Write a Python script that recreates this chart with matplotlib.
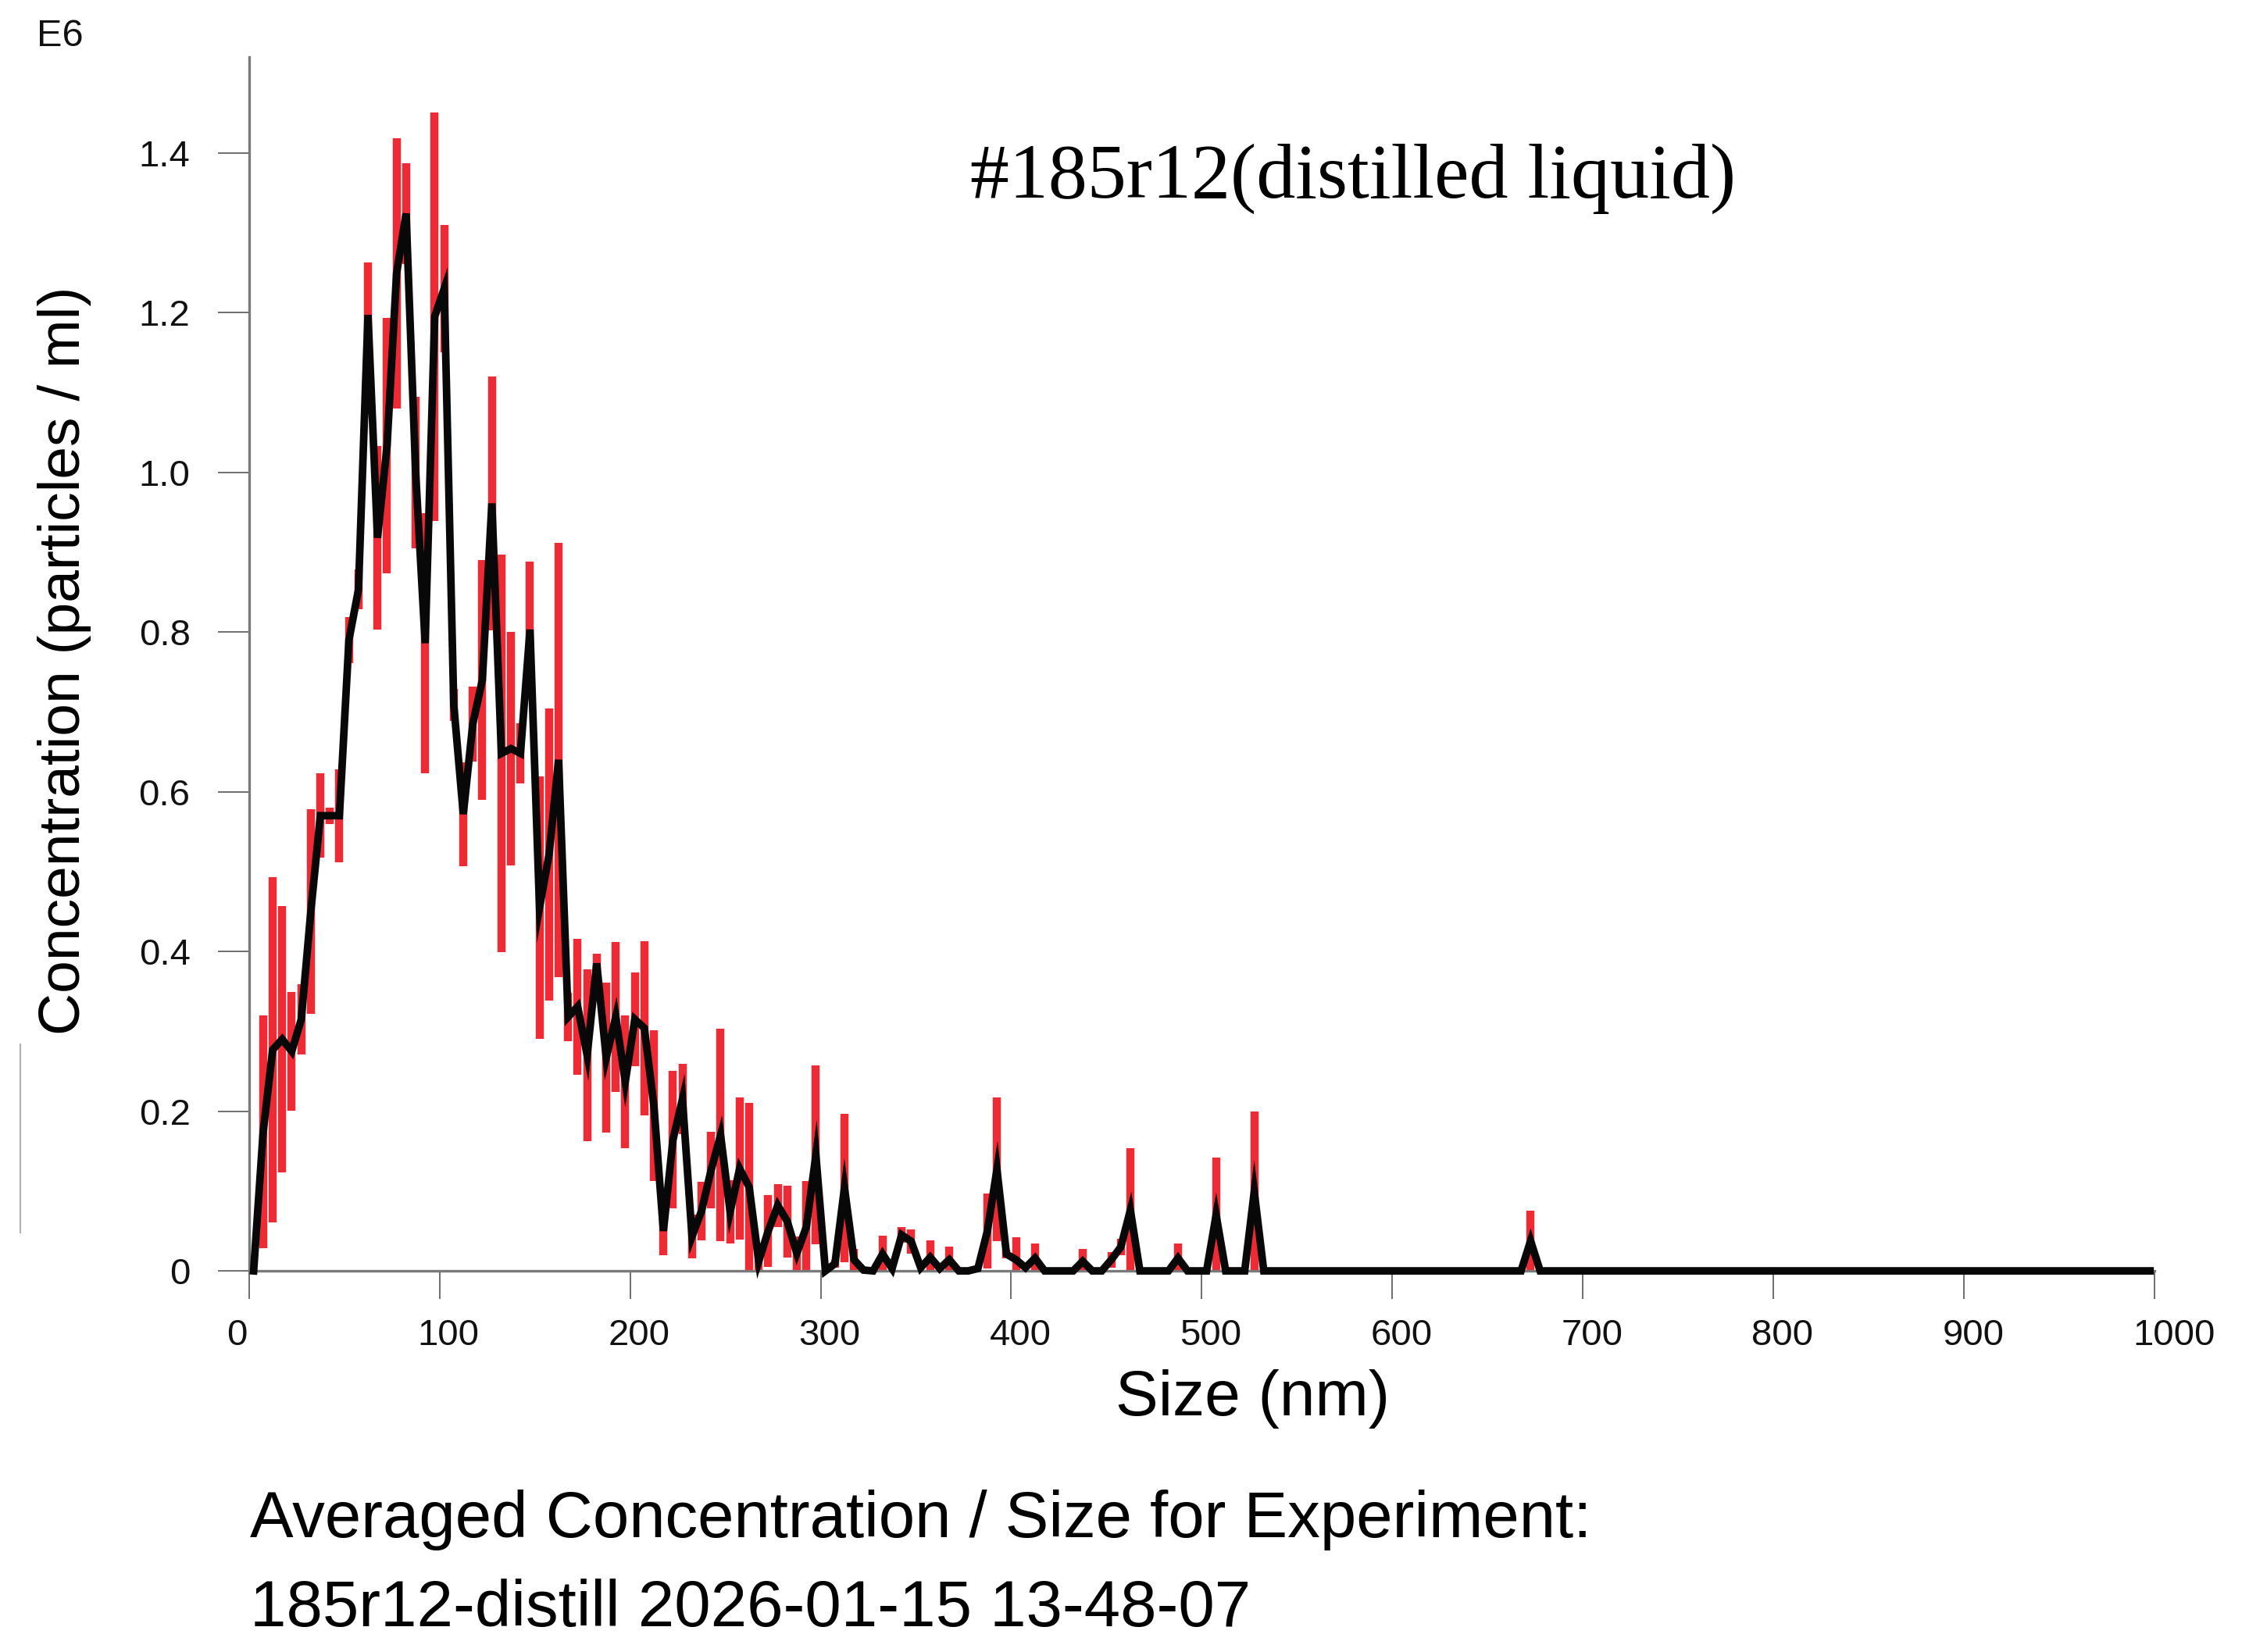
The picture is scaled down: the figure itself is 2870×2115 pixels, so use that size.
import numpy as np
import matplotlib
matplotlib.use("Agg")
import matplotlib.pyplot as plt
from matplotlib.lines import Line2D
from matplotlib.transforms import ScaledTranslation

plt.rcParams['font.family'] = ['Liberation Sans', 'DejaVu Sans']

# bin centres (nm), 5 nm bins
size_nm = np.arange(2.5, 1000, 5)

# mean concentration (E6 particles / ml)
conc = [0.0, 0.174, 0.277, 0.290, 0.275, 0.315, 0.450, 0.570, 0.570, 0.570,
        0.790, 0.853, 1.197, 0.918, 1.033, 1.249, 1.324, 1.000, 0.786, 1.195,
        1.230, 0.709, 0.572, 0.685, 0.740, 0.961, 0.648, 0.654, 0.648, 0.803,
        0.455, 0.521, 0.640, 0.318, 0.331, 0.270, 0.385, 0.267, 0.318, 0.237,
        0.315, 0.304, 0.207, 0.050, 0.164, 0.215, 0.043, 0.075, 0.126, 0.170,
        0.074, 0.128, 0.105, 0.012, 0.050, 0.082, 0.062, 0.022, 0.055, 0.145,
        0.000, 0.009, 0.104, 0.014, 0.001, 0.000, 0.021, 0.003, 0.045, 0.037,
        0.004, 0.017, 0.003, 0.014, 0.000, 0.000, 0.003, 0.050, 0.127, 0.021,
        0.014, 0.004, 0.016, 0.000, 0.000, 0.000, 0.000, 0.012, 0.000, 0.000,
        0.014, 0.030, 0.076, 0.000, 0.000, 0.000, 0.000, 0.016, 0.000, 0.000,
        0.000, 0.070, 0.000, 0.000, 0.000, 0.099] \
    + [0.0] * 28 + [0.0376] + [0.0] * 65

# standard error (same units)
err = [0.0, 0.146, 0.216, 0.167, 0.074, 0.044, 0.128, 0.053, 0.010, 0.058,
       0.029, 0.025, 0.066, 0.115, 0.160, 0.169, 0.063, 0.095, 0.163, 0.256,
       0.080, 0.020, 0.065, 0.047, 0.150, 0.159, 0.249, 0.146, 0.038, 0.085,
       0.164, 0.183, 0.272, 0.030, 0.085, 0.108, 0.012, 0.094, 0.094, 0.083,
       0.059, 0.109, 0.094, 0.030, 0.086, 0.044, 0.027, 0.037, 0.048, 0.133,
       0.040, 0.089, 0.105, 0.012, 0.045, 0.027, 0.045, 0.021, 0.058, 0.112,
       0.000, 0.005, 0.093, 0.013, 0.000, 0.000, 0.023, 0.000, 0.010, 0.015,
       0.000, 0.021, 0.000, 0.016, 0.000, 0.000, 0.000, 0.047, 0.090, 0.005,
       0.028, 0.000, 0.018, 0.000, 0.000, 0.000, 0.000, 0.015, 0.000, 0.000,
       0.010, 0.010, 0.078, 0.000, 0.000, 0.000, 0.000, 0.018, 0.000, 0.000,
       0.000, 0.072, 0.000, 0.000, 0.000, 0.101] \
    + [0.0] * 28 + [0.038] + [0.0] * 65

x_ticks = [0, 100, 200, 300, 400, 500, 600, 700, 800, 900, 1000]
y_ticks = [0, 0.2, 0.4, 0.6, 0.8, 1.0, 1.2, 1.4]
y_ticklabels = ['0', '0.2', '0.4', '0.6', '0.8', '1.0', '1.2', '1.4']

conc = np.array(conc)
err = np.array(err)
lo = np.clip(conc - err, 0, None)
hi = conc + err

fig = plt.figure(figsize=(28.7, 21.15), dpi=100)
ax = fig.add_axes([0.111, 0.2307, 0.8501, 0.7348])

# red error bars, then the mean line on top
ax.vlines(size_nm, lo, hi, colors='#ee2b34', linewidth=7.5, zorder=2)
ax.plot(size_nm, conc, color='#080808', linewidth=7, solid_joinstyle='miter',
        clip_on=False, zorder=3)

ax.set_xlim(0, 1000)
ax.set_ylim(0, 1.52)
ax.set_xticks(x_ticks)
ax.set_xticklabels([str(v) for v in x_ticks])
ax.set_yticks(y_ticks)
ax.set_yticklabels(y_ticklabels)

for side in ['top', 'right']:
    ax.spines[side].set_visible(False)
for side in ['left', 'bottom']:
    ax.spines[side].set_color('#7a7a7a')
    ax.spines[side].set_linewidth(2.4)

ax.tick_params(axis='y', length=29, width=1.2, color='#555555', pad=25,
               labelsize=34, labelcolor='#111111')
ax.tick_params(axis='x', length=26, width=1.2, color='#555555', pad=18,
               labelsize=34, labelcolor='#111111')

# x tick labels in the original start a little left of their tick
shift = ScaledTranslation(-0.28, 0, fig.dpi_scale_trans)
for lab in ax.get_xticklabels():
    lab.set_horizontalalignment('left')
    lab.set_transform(lab.get_transform() + shift)

fig.text(0.0268, 0.978, 'E6', fontsize=35, ha='center', va='center', color='#111111')
fig.text(0.6034, 0.8917, '#185r12(distilled liquid)', fontsize=72,
         family=['Liberation Serif', 'DejaVu Serif'], ha='center', va='center')
fig.text(0.5587, 0.153, 'Size (nm)', fontsize=59, ha='center', va='center')
fig.text(0.0286, 0.600, 'Concentration (particles / ml)', fontsize=54,
         rotation=90, ha='center', va='center')
fig.text(0.1115, 0.0801, 'Averaged Concentration / Size for Experiment:',
         fontsize=60, ha='left', va='center')
fig.text(0.1115, 0.0262, '185r12-distill 2026-01-15 13-48-07',
         fontsize=60, ha='left', va='center')

# thin grey mark at the left edge of the original image
fig.add_artist(Line2D([0.0091, 0.0091], [0.254, 0.368], color='#b0b0b0',
                      linewidth=1.5, transform=fig.transFigure))

fig.savefig('out.png', dpi=100)
